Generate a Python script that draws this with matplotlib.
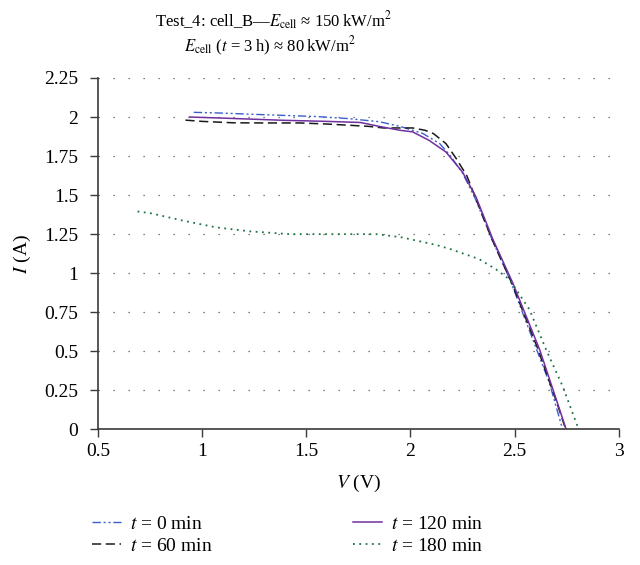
import matplotlib

matplotlib.use("Agg")
import matplotlib.pyplot as plt

plt.rcParams["font.family"] = ["Liberation Serif", "DejaVu Serif"]
plt.rcParams["mathtext.fontset"] = "stix"

# I-V curves
v_t0 = [0.96, 1.1, 1.23, 1.4, 1.55, 1.7, 1.85, 1.95, 2.06, 2.14, 2.19, 2.25, 2.31, 2.39, 2.48, 2.6, 2.667, 2.73]
i_t0 = [2.03, 2.025, 2.018, 2.01, 2.003, 1.99, 1.97, 1.94, 1.894, 1.83, 1.754, 1.64, 1.48, 1.22, 0.95, 0.53, 0.296, 0.0]

v_t60 = [0.92, 1.0, 1.15, 1.3, 1.47, 1.6, 1.71, 1.8, 1.87, 1.95, 2.01, 2.07, 2.11, 2.17, 2.22, 2.27, 2.31,
         2.39, 2.485, 2.61, 2.7, 2.745]
i_t60 = [1.98, 1.972, 1.963, 1.962, 1.962, 1.955, 1.947, 1.94, 1.93, 1.93, 1.93, 1.915, 1.894, 1.83, 1.733,
         1.625, 1.49, 1.22, 0.94, 0.52, 0.18, 0.0]

v_t120 = [0.94, 1.1, 1.39, 1.6, 1.76, 1.85, 1.95, 2.01, 2.09, 2.17, 2.25, 2.315, 2.395, 2.49, 2.62, 2.7, 2.747]
i_t120 = [2.0, 1.993, 1.979, 1.972, 1.965, 1.94, 1.915, 1.905, 1.85, 1.776, 1.647, 1.486, 1.218, 0.94, 0.51,
          0.19, 0.0]

v_t180 = [0.69, 0.75, 0.91, 1.07, 1.23, 1.42, 1.6, 1.84, 1.96, 2.12, 2.19, 2.33, 2.41, 2.475, 2.507, 2.571,
          2.651, 2.731, 2.807]
i_t180 = [1.395, 1.385, 1.336, 1.293, 1.268, 1.25, 1.25, 1.25, 1.229, 1.182, 1.155, 1.09, 1.025, 0.96, 0.896,
          0.767, 0.51, 0.274, 0.0]

x_ticks = [0.5, 1, 1.5, 2, 2.5, 3]
x_tick_labels = ["0.5", "1", "1.5", "2", "2.5", "3"]
y_ticks = [0, 0.25, 0.5, 0.75, 1, 1.25, 1.5, 1.75, 2, 2.25]
y_tick_labels = ["0", "0.25", "0.5", "0.75", "1", "1.25", "1.5", "1.75", "2", "2.25"]

FS = 14
AXIS_COLOR = "#3a3a3a"

fig = plt.figure(figsize=(6.4, 5.65), dpi=100)
ax = fig.add_axes([0.153, 0.240, 0.814, 0.622])

ax.plot(v_t0, i_t0, color="#3a5fcd", lw=1.0, dashes=[6, 2, 1.5, 2, 1.5, 2], label="$t$ = 0 min")
ax.plot(v_t60, i_t60, color="#1a1a1a", lw=1.1, dashes=[6, 3], label="$t$ = 60 min")
ax.plot(v_t120, i_t120, color="#7030a0", lw=1.1, label="$t$ = 120 min")
ax.plot(v_t180, i_t180, color="#217346", lw=1.3, dashes=[1, 2.5], label="$t$ = 180 min")

ax.set_xlim(0.5, 3)
ax.set_ylim(0, 2.25)
ax.set_xticks(x_ticks, x_tick_labels)
ax.set_yticks(y_ticks, y_tick_labels)
ax.tick_params(direction="out", length=6, width=1.0, color=AXIS_COLOR, labelsize=FS)
ax.tick_params(axis="x", pad=4)
ax.tick_params(axis="y", pad=8)
for side in ["top", "right"]:
    ax.spines[side].set_visible(False)
for side in ["left", "bottom"]:
    ax.spines[side].set_color(AXIS_COLOR)
    ax.spines[side].set_linewidth(1.2)

for y in y_ticks[1:]:
    ax.axhline(y, color="#555555", lw=0.9, dashes=[1, 11], zorder=0)

ax.set_xlabel("$V$ (V)", fontsize=FS, labelpad=9)
ax.set_ylabel("$I$ (A)", fontsize=FS, labelpad=8)

fig.text(0.428, 0.963, "Test_4: cell_B\u2014$E_{\\mathrm{cell}}$ \u2248 150\u2009kW/m$^2$", ha="center", va="center",
         fontsize=12)
fig.text(0.422, 0.918, "$E_{\\mathrm{cell}}$ ($t$ = 3\u2009h) \u2248 80\u2009kW/m$^2$", ha="center", va="center",
         fontsize=12)

fig.legend(
    loc="upper left",
    bbox_to_anchor=(0.131, 0.102),
    bbox_transform=fig.transFigure,
    ncol=2,
    frameon=False,
    fontsize=FS,
    handlelength=1.5,
    handletextpad=0.45,
    columnspacing=7.25,
    labelspacing=0.25,
    borderaxespad=0,
)

fig.savefig("out.png", dpi=100)
